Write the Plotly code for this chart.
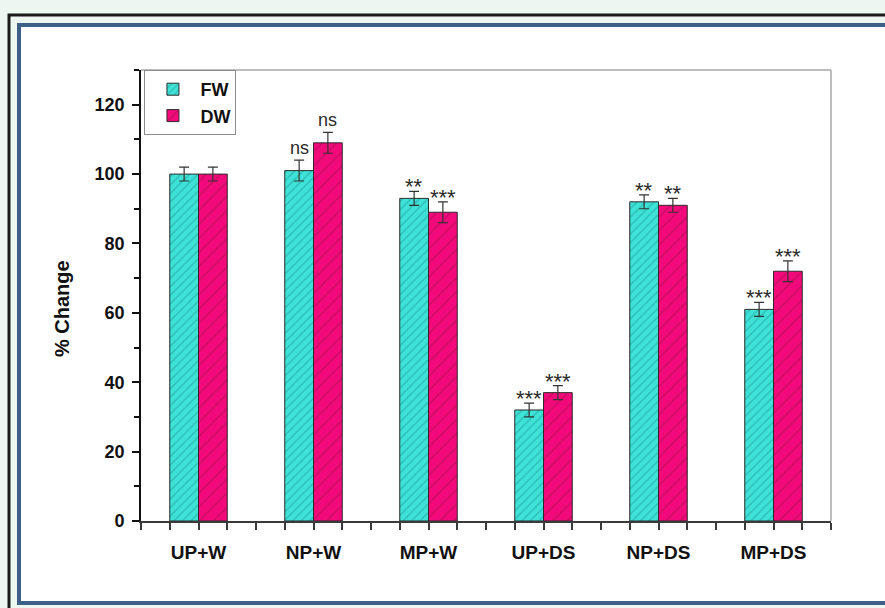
import plotly.graph_objects as go

# Treatments and measured responses (% of control)
categories = ["UP+W", "NP+W", "MP+W", "UP+DS", "NP+DS", "MP+DS"]
fw_values = [100, 101, 93, 32, 92, 61]
dw_values = [100, 109, 89, 37, 91, 72]
fw_errors = [2, 3, 2, 2, 2, 2]
dw_errors = [2, 3, 3, 2, 2, 3]
fw_signif = ["", "ns", "**", "***", "**", "***"]
dw_signif = ["", "ns", "***", "***", "**", "***"]
y_ticks = [0, 20, 40, 60, 80, 100, 120]

W, H = 885, 608
L, R, T, B = 141, 831, 70, 521  # plot area in pixels


def px(x):
    return (x - L) / (R - L)


def py(y):
    return (B - y) / (B - T)


FONT = "Arial, Liberation Sans, sans-serif"
positions = list(range(len(categories)))

fig = go.Figure()
fig.add_trace(go.Bar(
    name="FW", x=positions, y=fw_values,
    error_y=dict(type="data", array=fw_errors, color="#333333", thickness=1.2, width=5),
    marker=dict(color="#3ee2d6", line=dict(color="#2b2b2b", width=1),
                pattern=dict(shape="/", fgcolor="#1e9d9a", size=6, solidity=0.25)),
))
fig.add_trace(go.Bar(
    name="DW", x=positions, y=dw_values,
    error_y=dict(type="data", array=dw_errors, color="#333333", thickness=1.2, width=5),
    marker=dict(color="#f20a7a", line=dict(color="#2b2b2b", width=1),
                pattern=dict(shape="/", fgcolor="#a0104f", size=10, solidity=0.15)),
))

# significance marks above each error bar
for i in positions:
    for off, vals, errs, marks in ((-0.125, fw_values, fw_errors, fw_signif),
                                   (0.125, dw_values, dw_errors, dw_signif)):
        m = marks[i]
        if m:
            is_ns = m == "ns"
            fig.add_annotation(
                x=i + off, y=vals[i] + errs[i], text=m, showarrow=False,
                yanchor="bottom", yshift=0 if is_ns else -10,
                font=dict(family=FONT, size=18 if is_ns else 22, color="#2a2a2a"),
            )

# y-axis title, placed by hand
fig.add_annotation(
    xref="paper", yref="paper", x=px(62), y=py(309), text="<b>% Change</b>",
    textangle=-90, showarrow=False, xanchor="center", yanchor="middle",
    font=dict(family=FONT, size=20, color="#111111"),
)

shapes = [
    # outer black frame
    dict(type="rect", xref="paper", yref="paper", x0=px(9), x1=px(900), y0=py(620), y1=py(15),
         line=dict(color="#1a1a1a", width=3), fillcolor="rgba(0,0,0,0)", layer="below"),
    # inner blue panel
    dict(type="rect", xref="paper", yref="paper", x0=px(19), x1=px(900), y0=py(603), y1=py(25),
         line=dict(color="#3d5f88", width=4), fillcolor="white", layer="below"),
    # top and right borders of the plot box
    dict(type="line", xref="paper", yref="paper", x0=0, x1=1, y0=1, y1=1,
         line=dict(color="#a8a8a8", width=1.5)),
    dict(type="line", xref="paper", yref="paper", x0=1, x1=1, y0=0, y1=1,
         line=dict(color="#a8a8a8", width=1.5)),
]

fig.update_layout(
    width=W, height=H,
    margin=dict(l=L, r=W - R, t=T, b=H - B),
    paper_bgcolor="#eef6f2", plot_bgcolor="white",
    barmode="group", bargap=0.5, bargroupgap=0,
    shapes=shapes,
    font=dict(family=FONT, color="#111111"),
    legend=dict(x=0.005, y=1, xanchor="left", yanchor="top",
                bgcolor="white", bordercolor="#8c8c8c", borderwidth=1,
                font=dict(family=FONT, size=18, color="#111111", weight="bold"),
                tracegroupgap=0, itemwidth=45),
    showlegend=True,
)

fig.update_xaxes(
    range=[-0.5, 5.5], tickvals=positions,
    ticktext=[f"<b>{c}</b>" for c in categories],
    tickfont=dict(family=FONT, size=19, color="#111111"),
    showgrid=False, zeroline=False,
    showline=True, linecolor="#3a3a3a", linewidth=1.5,
    ticks="outside", ticklen=7, tickwidth=1.5, tickcolor="#3a3a3a",
    ticklabelstandoff=6,
    minor=dict(dtick=0.25, tick0=0, ticks="outside", ticklen=7, tickwidth=1.5, tickcolor="#3a3a3a"),
)
fig.update_yaxes(
    range=[0, 130], tickvals=y_ticks,
    ticktext=[f"<b>{v}</b>" for v in y_ticks],
    tickfont=dict(family=FONT, size=18, color="#111111"),
    showgrid=False, zeroline=False,
    showline=True, linecolor="#111111", linewidth=1.8,
    ticks="outside", ticklen=7, tickwidth=1.5, tickcolor="#111111",
    ticklabelstandoff=4,
    minor=dict(dtick=10, tick0=0, ticks="outside", ticklen=5, tickwidth=1.5, tickcolor="#111111"),
)

fig.write_html("out.html")
